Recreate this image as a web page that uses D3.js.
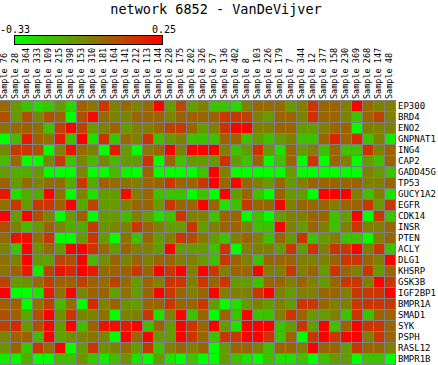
<!DOCTYPE html>
<html>
<head>
<meta charset="utf-8">
<script src="https://cdn.jsdelivr.net/npm/d3@7"></script>
<style>
  html, body { margin: 0; padding: 0; background: #fff; }
  svg { display: block; }
  text { font-family: "DejaVu Sans Mono", monospace; fill: #000; }
</style>
</head>
<body>
<div id="chart"></div>
<script>
const title = "network 6852 - VanDeVijver";
const colorMin = -0.33;
const colorMax = 0.25;
const colorTickLabels = ["-0.33", "0.25"];

const samples = ["Sample 76","Sample 28","Sample 364","Sample 333","Sample 109","Sample 215","Sample 398","Sample 153","Sample 310","Sample 181","Sample 164","Sample 141","Sample 212","Sample 113","Sample 144","Sample 228","Sample 175","Sample 202","Sample 326","Sample 57","Sample 136","Sample 402","Sample 8","Sample 103","Sample 226","Sample 179","Sample 7","Sample 344","Sample 12","Sample 377","Sample 158","Sample 230","Sample 369","Sample 268","Sample 147","Sample 48"];

const genes = ["EP300","BRD4","ENO2","GNPNAT1","ING4","CAP2","GADD45G","TP53","GUCY1A2","EGFR","CDK14","INSR","PTEN","ACLY","DLG1","KHSRP","GSK3B","IGF2BP1","BMPR1A","SMAD1","SYK","PSPH","RASL12","BMPR1B"];

// values[geneIndex][sampleIndex]
const values = [
[0.01,-0.10,-0.19,-0.24,-0.20,-0.10,-0.24,0.03,-0.02,0.13,-0.04,0.01,-0.04,0.01,0.25,-0.10,0.08,-0.10,-0.04,-0.19,-0.19,-0.24,-0.04,0.01,0.01,0.01,-0.10,-0.04,0.13,0.02,0.02,-0.04,0.25,0.01,-0.04,-0.04],
[0.07,-0.10,0.07,-0.06,0.07,0.03,-0.33,0.07,0.23,0.01,-0.05,-0.05,0.02,0.02,0.02,-0.05,0.03,0.03,0.02,0.03,0.13,0.13,0.10,-0.05,-0.10,0.02,0.02,-0.05,0.14,0.02,0.02,-0.05,-0.19,0.02,0.10,-0.04],
[-0.01,0.01,0.03,0.00,-0.19,0.10,0.25,0.10,-0.10,-0.05,0.03,-0.10,-0.04,-0.04,0.02,0.10,0.12,0.02,-0.10,-0.04,0.14,0.25,0.25,-0.04,-0.04,0.02,0.02,-0.10,-0.10,-0.04,0.02,0.02,-0.33,-0.04,-0.04,-0.04],
[-0.33,-0.17,0.19,0.03,-0.01,0.19,-0.19,0.25,-0.26,0.13,-0.20,0.01,-0.04,0.14,-0.19,-0.10,-0.04,-0.19,-0.19,-0.19,0.02,0.02,-0.19,-0.10,-0.19,-0.10,-0.04,-0.19,-0.19,0.02,0.17,0.02,0.16,-0.19,-0.04,-0.28],
[-0.06,0.13,0.13,0.07,-0.33,-0.05,0.21,0.01,-0.05,-0.33,0.19,-0.10,-0.33,-0.02,0.02,0.25,-0.04,0.25,0.25,0.25,-0.04,-0.19,-0.10,0.15,-0.10,-0.26,0.02,-0.10,-0.04,-0.19,0.02,-0.19,-0.19,0.14,-0.04,0.02],
[-0.17,0.01,-0.33,-0.33,-0.05,0.13,-0.20,-0.06,-0.17,-0.06,-0.17,-0.10,-0.10,0.14,-0.33,0.02,-0.19,-0.10,-0.10,-0.10,0.14,-0.10,-0.19,0.02,-0.33,-0.19,0.02,-0.33,0.13,-0.33,0.02,-0.04,-0.33,-0.10,-0.19,0.02],
[-0.10,-0.14,-0.14,-0.10,-0.33,-0.33,-0.33,-0.06,-0.33,-0.33,-0.17,-0.31,-0.33,0.02,-0.33,-0.33,-0.33,-0.33,-0.19,0.25,-0.04,-0.33,-0.33,-0.33,-0.33,-0.33,-0.10,-0.33,-0.33,-0.33,-0.33,-0.33,-0.33,-0.04,-0.10,-0.19],
[0.03,-0.10,0.01,-0.05,0.01,0.01,-0.14,0.13,-0.14,0.03,0.01,-0.01,-0.04,0.02,0.02,0.13,0.02,0.02,0.13,0.25,0.02,0.23,0.02,-0.04,-0.10,0.02,-0.10,-0.04,0.02,0.02,0.02,0.02,0.02,-0.04,-0.04,0.02],
[0.19,-0.26,-0.14,-0.14,0.25,-0.01,-0.33,-0.05,-0.26,-0.10,-0.10,0.23,-0.04,0.02,-0.19,-0.19,-0.19,-0.33,-0.19,-0.33,0.25,-0.10,0.02,-0.19,-0.33,0.02,-0.10,-0.10,-0.33,0.25,0.25,0.25,-0.04,-0.19,-0.04,-0.26],
[-0.01,0.13,-0.10,0.13,0.13,0.03,0.25,-0.14,0.10,-0.10,-0.10,-0.05,0.02,0.02,-0.10,0.13,0.02,0.02,0.25,0.02,-0.26,-0.19,0.13,0.02,0.02,0.25,-0.04,0.02,0.02,0.02,-0.04,0.02,0.02,0.13,-0.10,0.13],
[0.25,-0.10,0.25,0.07,-0.05,-0.33,-0.10,0.03,-0.33,-0.10,-0.10,-0.17,-0.04,-0.10,-0.26,-0.19,0.13,-0.04,-0.04,-0.19,0.02,0.02,-0.33,-0.19,-0.33,-0.10,-0.04,-0.04,0.02,0.02,-0.19,-0.10,0.25,-0.33,0.13,-0.19],
[0.07,-0.05,-0.17,-0.10,0.03,-0.05,-0.14,-0.14,0.13,-0.08,-0.06,-0.05,0.13,0.02,-0.04,-0.10,-0.10,0.13,-0.10,-0.04,0.02,0.02,-0.04,-0.19,-0.19,0.25,-0.04,-0.10,0.02,-0.04,-0.19,-0.04,0.13,-0.04,-0.04,0.02],
[0.01,0.21,0.23,-0.01,0.13,-0.33,-0.33,-0.10,0.13,-0.10,-0.33,-0.01,-0.19,0.02,-0.10,-0.04,0.13,0.08,-0.02,-0.10,-0.19,-0.04,0.02,-0.04,-0.19,0.02,-0.10,0.13,-0.19,-0.10,-0.04,-0.19,-0.19,-0.33,-0.04,0.02],
[-0.05,-0.20,0.25,-0.08,0.01,-0.10,0.25,0.25,0.13,0.01,-0.10,0.03,-0.04,-0.04,-0.10,0.25,-0.10,-0.10,-0.10,-0.19,0.13,-0.33,-0.04,-0.04,-0.04,-0.10,0.13,-0.10,0.13,-0.04,0.13,0.13,0.25,-0.04,0.13,-0.19],
[-0.01,-0.05,0.25,-0.10,-0.12,0.10,0.07,0.25,-0.17,-0.08,0.03,-0.05,0.02,-0.04,0.02,0.02,-0.04,-0.04,-0.10,-0.19,0.13,0.02,-0.04,-0.19,0.02,0.02,0.02,-0.04,-0.04,-0.04,0.02,0.13,0.13,0.02,-0.04,0.25],
[-0.01,0.03,0.19,-0.28,0.10,0.21,0.16,0.25,0.19,0.01,0.03,0.03,0.13,0.02,0.25,0.13,0.25,-0.04,0.25,0.13,-0.04,0.02,0.02,0.25,-0.04,-0.04,0.13,-0.04,0.02,-0.10,0.13,0.02,-0.04,0.13,-0.10,0.02],
[0.10,-0.10,-0.08,0.01,0.10,0.03,0.03,0.10,0.03,0.01,0.10,0.01,-0.10,0.02,-0.04,0.13,0.13,-0.04,0.13,0.02,0.13,-0.10,-0.10,-0.19,0.02,0.02,-0.04,0.02,-0.04,-0.10,0.02,0.13,0.13,-0.04,0.25,0.13],
[0.25,-0.33,-0.33,-0.28,0.19,-0.01,0.25,-0.05,0.03,0.03,-0.12,-0.01,-0.10,0.02,0.25,0.13,0.02,-0.04,0.02,0.25,-0.04,-0.04,-0.04,0.13,0.25,-0.04,-0.10,-0.04,-0.04,0.02,0.02,-0.04,0.13,0.13,0.13,0.25],
[0.03,0.03,-0.33,-0.01,0.10,-0.17,-0.01,-0.33,0.16,-0.05,0.03,-0.08,-0.10,0.02,0.02,0.13,0.02,0.02,0.13,-0.10,-0.33,-0.26,-0.10,-0.04,-0.10,-0.04,-0.10,0.13,0.13,0.02,-0.04,-0.04,0.13,0.13,0.13,0.13],
[0.07,0.03,-0.14,0.07,0.25,-0.08,0.13,-0.05,-0.05,-0.01,-0.33,-0.05,-0.04,0.13,-0.26,-0.04,0.25,-0.19,0.02,-0.33,0.02,-0.19,0.25,-0.19,-0.19,-0.04,0.13,0.02,-0.10,-0.10,-0.04,-0.19,0.13,-0.19,0.02,0.02],
[0.10,0.16,-0.10,0.07,0.23,-0.10,0.25,-0.17,0.03,0.21,0.21,0.19,0.25,-0.19,0.02,-0.10,0.25,0.13,0.02,0.25,-0.10,-0.26,0.25,0.25,0.25,-0.19,-0.10,0.13,-0.10,0.25,-0.19,0.02,0.25,0.13,0.13,0.02],
[-0.05,0.03,0.03,-0.17,0.25,-0.12,-0.08,-0.05,-0.01,-0.05,-0.33,0.25,0.02,0.25,-0.10,-0.10,0.25,0.13,0.02,-0.19,0.13,0.13,0.25,0.25,0.13,-0.19,0.02,-0.33,0.13,0.25,0.13,0.25,0.25,-0.04,0.13,0.02],
[-0.08,0.03,-0.20,0.13,0.01,0.25,-0.33,-0.10,0.13,-0.08,-0.05,0.01,-0.10,0.13,-0.19,-0.04,0.02,-0.04,0.02,-0.33,-0.10,0.02,0.02,-0.04,-0.19,0.02,0.02,-0.04,0.25,0.02,0.02,-0.10,0.13,0.02,0.02,-0.04],
[-0.28,-0.31,-0.14,-0.33,-0.33,-0.17,-0.17,-0.08,-0.20,-0.28,-0.17,-0.08,-0.26,-0.33,-0.10,-0.26,-0.33,-0.19,-0.33,-0.33,-0.10,-0.19,-0.26,-0.33,-0.19,-0.26,-0.26,-0.19,-0.33,-0.19,-0.10,-0.10,-0.33,-0.19,-0.19,-0.33]
];

const W = 438, H = 365;
const svg = d3.select("#chart").append("svg").attr("width", W).attr("height", H);

const color = d3.scaleLinear().domain([colorMin, colorMax])
  .range(["#00ff00", "#ff0000"]).interpolate(d3.interpolateRgb).clamp(true);

const x = d3.scaleBand().domain(samples).range([0, 395]).paddingInner(1/11).paddingOuter(0);
const y = d3.scaleBand().domain(genes).range([101, 364]).paddingInner(1/11).paddingOuter(0);

// title
svg.append("text").attr("x", 216).attr("y", 14).attr("text-anchor", "middle")
  .style("font-size", "13.5px").text(title);

// color bar
const defs = svg.append("defs");
const grad = defs.append("linearGradient").attr("id", "cbar").attr("x1", "0%").attr("x2", "100%");
d3.range(0, 11).forEach(i => {
  const t = i / 10;
  grad.append("stop").attr("offset", (t * 100) + "%")
    .attr("stop-color", color(colorMin + t * (colorMax - colorMin)));
});
svg.append("rect").attr("x", 14.5).attr("y", 35.5).attr("width", 148).attr("height", 9)
  .attr("fill", "url(#cbar)").attr("stroke", "#000").attr("stroke-width", 1);
svg.append("text").attr("x", 0).attr("y", 33).style("font-size", "10px").text(colorTickLabels[0]);
svg.append("text").attr("x", 176).attr("y", 33).attr("text-anchor", "end").style("font-size", "10px").text(colorTickLabels[1]);

// grid background
svg.append("rect").attr("x", 0).attr("y", 100).attr("width", 396).attr("height", 265).attr("fill", "#808080");

// cells
const cells = [];
genes.forEach((g, gi) => samples.forEach((s, si) => cells.push({g, s, v: values[gi][si]})));
svg.append("g").selectAll("rect").data(cells).join("rect")
  .attr("x", d => x(d.s)).attr("y", d => y(d.g))
  .attr("width", x.bandwidth()).attr("height", y.bandwidth())
  .attr("fill", d => color(d.v));

// column labels
svg.append("g").selectAll("text").data(samples).join("text")
  .attr("transform", d => `translate(${x(d) + 6.5},99) rotate(-90)`)
  .style("font-size", "8.5px").text(d => d);

// row labels
svg.append("g").selectAll("text").data(genes).join("text")
  .attr("x", 398).attr("y", d => y(d) + y.bandwidth() / 2)
  .attr("dy", "0.36em").style("font-size", "9px").text(d => d);
</script>
</body>
</html>
